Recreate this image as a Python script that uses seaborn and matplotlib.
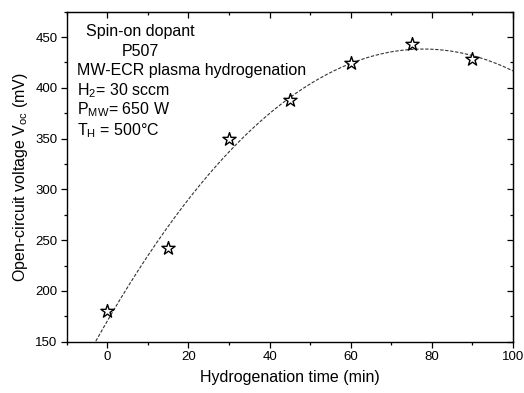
import numpy as np
import pandas as pd
import matplotlib
matplotlib.use("Agg")
import matplotlib.pyplot as plt
from matplotlib.ticker import MultipleLocator
import seaborn as sns

# data
time_min = [0, 15, 30, 45, 60, 75, 90]
voc_mv = [180, 242, 350, 388, 424, 443, 428]
x_ticks = [0, 20, 40, 60, 80, 100]
y_ticks = [150, 200, 250, 300, 350, 400, 450]

sns.set_style("ticks")
plt.rcParams["font.family"] = ["Liberation Sans", "DejaVu Sans"]
plt.rcParams["mathtext.fontset"] = "custom"
plt.rcParams["mathtext.rm"] = "Liberation Sans"
plt.rcParams["mathtext.it"] = "Liberation Sans"
plt.rcParams["text.color"] = "black"
plt.rcParams["axes.labelcolor"] = "black"
plt.rcParams["xtick.color"] = "black"
plt.rcParams["ytick.color"] = "black"

df = pd.DataFrame({"t": time_min, "v": voc_mv})

# polynomial (quadratic) fit of the measured points
coef = np.polyfit(time_min, voc_mv, 2)
fx = np.linspace(-10, 100, 300)
fit = pd.DataFrame({"t": fx, "v": np.polyval(coef, fx)})

fig = plt.figure(figsize=(5.24, 3.93), dpi=100)
ax = fig.add_axes([0.1273, 0.1305, 0.8517, 0.8397])

sns.lineplot(data=fit, x="t", y="v", ax=ax, color="#333333", lw=0.8,
             linestyle=(0, (3, 1.5)), zorder=2)
sns.scatterplot(data=df, x="t", y="v", ax=ax, marker="*", s=100,
                facecolor="white", edgecolor="black", linewidth=1.0, zorder=3)

ax.set_xlim(-10, 100)
ax.set_ylim(150, 475)
ax.set_xticks(x_ticks)
ax.set_yticks(y_ticks)
ax.xaxis.set_minor_locator(MultipleLocator(10))
ax.yaxis.set_minor_locator(MultipleLocator(25))
ax.tick_params(which="major", direction="out", length=4, width=0.9, labelsize=9.5,
               pad=2.5, color="black", labelcolor="black")
ax.tick_params(which="minor", direction="out", length=2.5, width=0.9, color="black")
for s in ax.spines.values():
    s.set_visible(True)
    s.set_linewidth(1.0)
    s.set_color("black")

top = ax.secondary_xaxis("top")
top.set_xticks(x_ticks)
top.xaxis.set_minor_locator(MultipleLocator(10))
top.tick_params(which="major", direction="in", length=4, width=0.9, labeltop=False, color="black")
top.tick_params(which="minor", direction="in", length=2.5, width=0.9, color="black")
right = ax.secondary_yaxis("right")
right.set_yticks(y_ticks)
right.yaxis.set_minor_locator(MultipleLocator(25))
right.tick_params(which="major", direction="in", length=4, width=0.9, labelright=False, color="black")
right.tick_params(which="minor", direction="in", length=2.5, width=0.9, color="black")

ax.set_xlabel("Hydrogenation time (min)", fontsize=11.5, labelpad=5, color="black")
ax.set_ylabel("Open-circuit voltage V$_{\\mathrm{oc}}$ (mV)", fontsize=11.5, labelpad=4, color="black")

ax.text(0.166, 0.927, "Spin-on dopant", transform=ax.transAxes, ha="center", va="baseline",
        fontsize=11.5, color="black")
ax.text(0.166, 0.867, "P507", transform=ax.transAxes, ha="center", va="baseline",
        fontsize=11.5, color="black")
lines = ["MW-ECR plasma hydrogenation",
         "H$_{2}$= 30 sccm",
         "P$_{\\mathrm{MW}}$= 650 W",
         "T$_{\\mathrm{H}}$ = 500°C"]
ys = [0.809, 0.748, 0.688, 0.624]
for s, yy in zip(lines, ys):
    ax.text(0.024, yy, s, transform=ax.transAxes, ha="left", va="baseline",
            fontsize=11.5, color="black")

fig.savefig("out.png", dpi=100)
